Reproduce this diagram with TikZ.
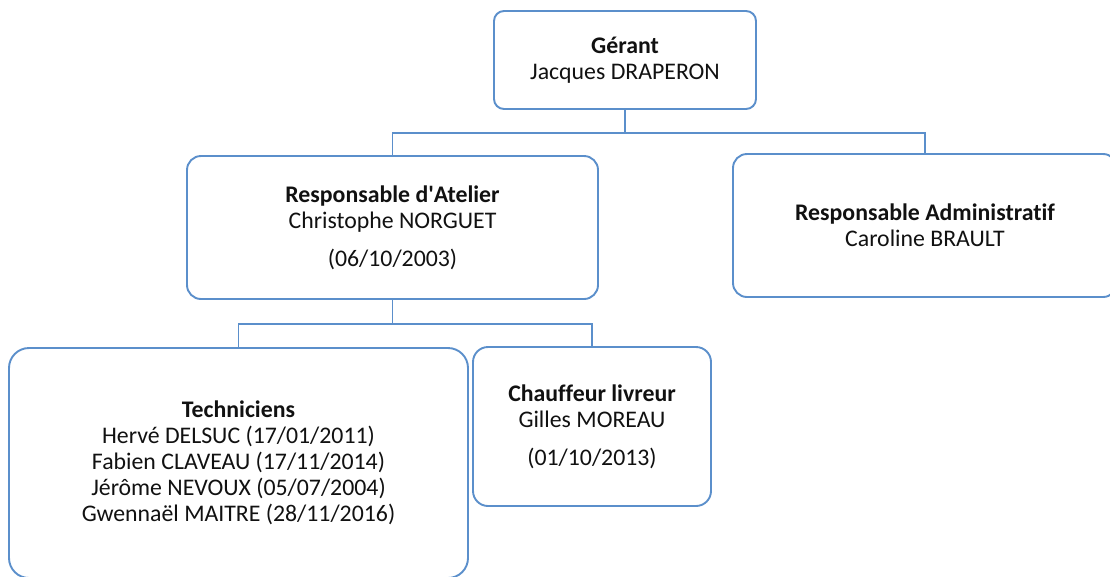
\documentclass[tikz,border=0pt]{standalone}
\usepackage{fontspec}
\setmainfont{Carlito}[Ligatures={NoCommon}]
\definecolor{boxblue}{HTML}{5B8FCB}
\definecolor{txt}{HTML}{111111}
\tikzset{
  orgbox/.style={draw=boxblue, line width=1.9pt, fill=white, align=center, text=txt,
    font=\fontsize{23.8}{26}\selectfont, inner sep=0pt},
  link/.style={draw=boxblue, line width=1.9pt}
}
\begin{document}
\begin{tikzpicture}[x=1pt,y=-1pt]
\useasboundingbox (0,0) rectangle (1110,576);
\node[orgbox, rounded corners=10pt, minimum width=262pt, minimum height=98pt] (ger) at (625,60)
  {\textbf{Gérant}\\Jacques DRAPERON};
\node[orgbox, rounded corners=14pt, minimum width=411pt, minimum height=143pt] (atel) at (392.5,227.5)
  {\textbf{Responsable d\textquotesingle Atelier}\\Christophe NORGUET\\[12pt](06/10/2003)};
\node[orgbox, rounded corners=14pt, minimum width=384pt, minimum height=143pt] (admin) at (925,225.5)
  {\textbf{Responsable Administratif}\\Caroline BRAULT};
\node[orgbox, rounded corners=20pt, minimum width=459pt, minimum height=230pt] (tech) at (238.5,463)
  {\textbf{Techniciens}\\Hervé DELSUC (17/01/2011)\\Fabien CLAVEAU (17/11/2014)\\Jérôme NEVOUX (05/07/2004)\\Gwennaël MAITRE (28/11/2016)};
\node[orgbox, rounded corners=15pt, minimum width=238pt, minimum height=159pt] (chauf) at (592,426.5)
  {\textbf{Chauffeur livreur}\\Gilles MOREAU\\[12pt](01/10/2013)};
\coordinate (j1) at ([yshift=-23pt]ger.south);
\coordinate (j2) at ([yshift=-24pt]atel.south);
\draw[link] (ger.south) -- (j1) -| (atel.north);
\draw[link] (j1) -| (admin.north);
\draw[link] (atel.south) -- (j2) -| (tech.north);
\draw[link] (j2) -| (chauf.north);
\end{tikzpicture}
\end{document}
